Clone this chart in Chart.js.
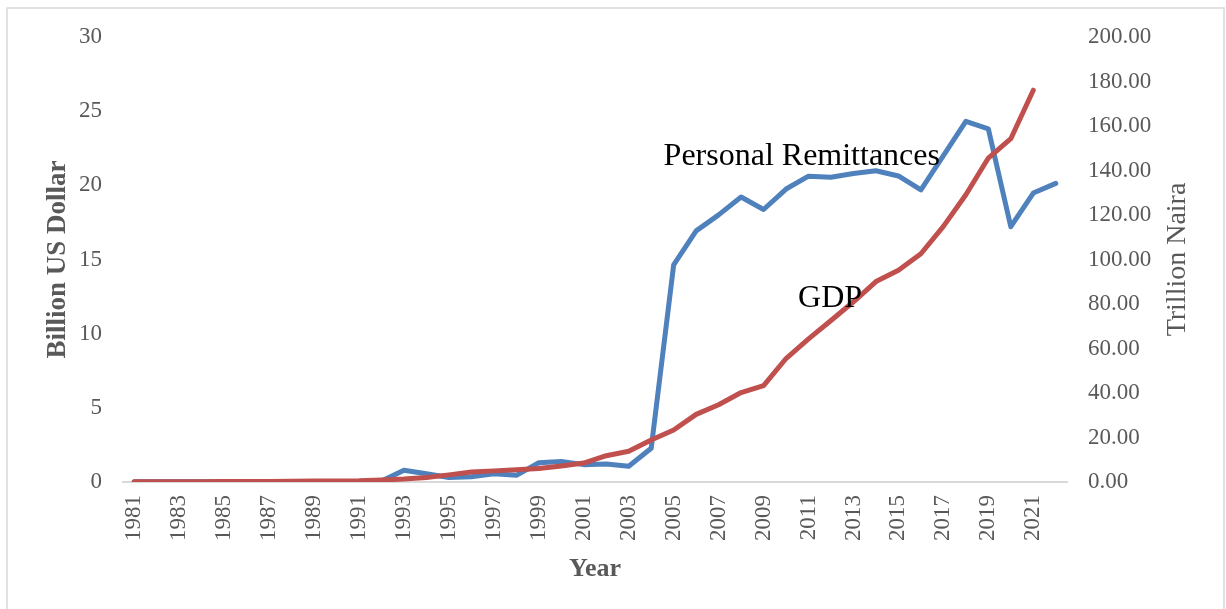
<!DOCTYPE html>
<html>
<head>
<meta charset="utf-8">
<script src="https://cdn.jsdelivr.net/npm/chart.js@4/dist/chart.umd.min.js"></script>
<style>
  html, body { margin: 0; padding: 0; background: #ffffff; }
  #wrap { position: relative; width: 1226px; height: 609px; }
</style>
</head>
<body>
<div id="wrap"><canvas id="myChart" width="1226" height="609"></canvas></div>
<script>
const years = [
  "1981", "1982", "1983", "1984", "1985", "1986", "1987", "1988", "1989", "1990",
  "1991", "1992", "1993", "1994", "1995", "1996", "1997", "1998", "1999", "2000",
  "2001", "2002", "2003", "2004", "2005", "2006", "2007", "2008", "2009", "2010",
  "2011", "2012", "2013", "2014", "2015", "2016", "2017", "2018", "2019", "2020",
  "2021", "2022",
];

// Billion US dollar (left axis)
const remittances = [
  0.01, 0.01, 0.01, 0.01, 0.01, 0.01, 0.0, 0.01, 0.01, 0.01,
  0.02, 0.06, 0.79, 0.55, 0.3, 0.36, 0.55, 0.45, 1.3, 1.39,
  1.17, 1.21, 1.06, 2.27, 14.64, 16.93, 18.01, 19.21, 18.37, 19.75,
  20.62, 20.54, 20.8, 20.98, 20.63, 19.69, 22.0, 24.31, 23.81, 17.21,
  19.48, 20.13,
];

// Trillion naira (right axis)
const gdp = [
  0.14, 0.14, 0.15, 0.16, 0.18, 0.2, 0.25, 0.32, 0.42, 0.5,
  0.6, 0.95, 1.3, 2.0, 3.2, 4.5, 5.0, 5.5, 6.1, 7.2,
  8.5, 11.8, 13.8, 18.9, 23.4, 30.4, 34.7, 40.2, 43.3, 55.5,
  64.3, 72.6, 81.0, 90.1, 95.2, 102.6, 114.9, 129.1, 145.6, 154.3,
  176.1, null,
];

// Text labels placed next to the lines: [text, category index, left-axis value]
const lineLabels = [
  ["Personal Remittances", 29.7, 21.37],
  ["GDP", 30.96, 11.78],
];

const serif = "'Liberation Serif', 'Times New Roman', serif";
const grey = "#595959";

// Remove the automatic label overflow padding so the plot area is fixed
const noOverflow = (scale) => {
  scale.paddingTop = 0;
  scale.paddingBottom = 0;
  scale.paddingLeft = 0;
  scale.paddingRight = 0;
};

const extrasPlugin = {
  id: "extras",
  beforeDraw: (chart) => {
    const { ctx } = chart;
    ctx.save();
    ctx.strokeStyle = "#d9d9d9";
    ctx.lineWidth = 1.5;
    ctx.strokeRect(7, 8, 1217, 620);
    ctx.restore();
  },
  afterDatasetsDraw: (chart) => {
    const { ctx, scales, chartArea } = chart;
    ctx.save();

    // Right axis title reads bottom to top
    ctx.fillStyle = grey;
    ctx.font = `28px ${serif}`;
    ctx.textAlign = "center";
    ctx.textBaseline = "middle";
    ctx.translate(scales.y1.right - 48, (chartArea.top + chartArea.bottom) / 2);
    ctx.rotate(-Math.PI / 2);
    ctx.fillText("Trillion Naira", 0, 0);
    ctx.restore();

    ctx.save();
    ctx.fillStyle = "#000000";
    ctx.font = `32px ${serif}`;
    ctx.textAlign = "center";
    ctx.textBaseline = "alphabetic";
    lineLabels.forEach(([text, idx, value]) => {
      ctx.fillText(text, scales.x.getPixelForValue(idx), scales.y.getPixelForValue(value));
    });
    ctx.restore();
  },
};

new Chart(document.getElementById("myChart"), {
  type: "line",
  data: {
    labels: years,
    datasets: [
      {
        label: "Personal Remittances",
        data: remittances,
        yAxisID: "y",
        borderColor: "#4f81bd",
        backgroundColor: "#4f81bd",
        borderWidth: 5,
        pointRadius: 0,
        tension: 0,
        borderCapStyle: "round",
        borderJoinStyle: "round",
        order: 1,
      },
      {
        label: "GDP",
        data: gdp,
        yAxisID: "y1",
        borderColor: "#c0504d",
        backgroundColor: "#c0504d",
        borderWidth: 5,
        pointRadius: 0,
        tension: 0,
        borderCapStyle: "round",
        borderJoinStyle: "round",
        order: 0,
      },
    ],
  },
  options: {
    responsive: false,
    animation: false,
    layout: {
      padding: { top: 37, left: 0, right: 0, bottom: 0 },
    },
    plugins: {
      legend: { display: false },
      tooltip: { enabled: false },
    },
    scales: {
      x: {
        offset: true,
        grid: { display: false, drawTicks: false },
        border: { display: true, color: "#d9d9d9", width: 2 },
        ticks: {
          autoSkip: false,
          maxRotation: 90,
          minRotation: 90,
          padding: 13,
          color: grey,
          font: { family: serif, size: 23 },
          callback: (value, index) => (index % 2 === 0 ? years[index] : ""),
        },
        title: {
          display: true,
          text: "Year",
          color: grey,
          font: { family: serif, size: 26, weight: "bold" },
          padding: { top: 0, bottom: 24 },
        },
        afterFit: (scale) => {
          scale.height = 127;
          noOverflow(scale);
        },
      },
      y: {
        position: "left",
        min: 0,
        max: 30,
        grid: { display: false, drawTicks: false },
        border: { display: false },
        ticks: {
          stepSize: 5,
          padding: 21,
          color: grey,
          font: { family: serif, size: 23 },
        },
        title: {
          display: true,
          text: "Billion US Dollar",
          color: grey,
          font: { family: serif, size: 27, weight: "bold" },
          padding: { top: 42, bottom: 0 },
        },
        afterFit: (scale) => {
          scale.width = 123;
          noOverflow(scale);
        },
      },
      y1: {
        position: "right",
        min: 0,
        max: 200,
        grid: { display: false, drawTicks: false },
        border: { display: false },
        ticks: {
          stepSize: 20,
          padding: 21,
          color: grey,
          font: { family: serif, size: 23 },
          callback: (value) => value.toFixed(2),
        },
        afterFit: (scale) => {
          scale.width = 159;
          noOverflow(scale);
        },
      },
    },
  },
  plugins: [extrasPlugin],
});
</script>
</body>
</html>
